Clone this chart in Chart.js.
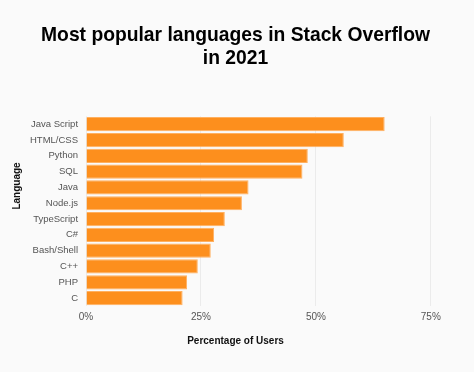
<!DOCTYPE html>
<html>
<head>
<meta charset="utf-8">
<script src="https://cdn.jsdelivr.net/npm/chart.js@4"></script>
<style>
  html, body { margin:0; padding:0; background:#fafafa; }
  #wrap { width:474px; height:372px; }
</style>
</head>
<body>
<div id="wrap"><canvas id="chart" width="474" height="372"></canvas></div>
<script>
// ======================================
// DATA
// ======================================

let languages = [
    "Java Script", "HTML/CSS", "Python", "SQL", "Java", "Node.js",
    "TypeScript", "C#", "Bash/Shell", "C++", "PHP", "C"
];

let percentUsers = [
    64.96, 56.07, 48.24, 47.08, 35.35, 33.91,
    30.19, 27.86, 27.13, 24.31, 21.98, 21.01
];

let xTicks = [0, 25, 50, 75];

let xTitle = "Percentage of Users";
let yTitle = "Language";

// ======================================
// Y TITLE (centred on the whole canvas, like the original)
// ======================================

let yTitlePlugin = {
    id: "yTitlePlugin",
    afterDraw: function(chart) {
        let ctx = chart.ctx;
        ctx.save();
        ctx.translate(17, chart.height / 2);
        ctx.rotate(-Math.PI / 2);
        ctx.font = "bold 10px 'Liberation Sans', Arial, sans-serif";
        ctx.fillStyle = "#111";
        ctx.textAlign = "center";
        ctx.textBaseline = "middle";
        ctx.fillText(yTitle, 0, 0);
        ctx.restore();
    }
};

// ======================================
// CHART
// ======================================

Chart.defaults.font.family = "'Liberation Sans', Arial, sans-serif";

new Chart(document.getElementById("chart"), {
    type: "bar",
    data: {
        labels: languages,
        datasets: [{
            data: percentUsers,
            backgroundColor: "#fd8f1d",
            borderColor: "#ffb060",
            borderWidth: 1,
            barPercentage: 0.9,
            categoryPercentage: 1
        }]
    },
    plugins: [yTitlePlugin],
    options: {
        indexAxis: "y",
        responsive: false,
        animation: false,
        layout: { padding: { left: 8, right: 11, top: 0, bottom: 25 } },
        plugins: {
            legend: { display: false },
            tooltip: { enabled: false },
            title: {
                display: true,
                text: ["Most popular languages in Stack Overflow", "in 2021"],
                color: "#000",
                font: { size: 19.3, weight: "bold" },
                lineHeight: 1.1,
                padding: { top: 24, bottom: 46 }
            },
            subtitle: {
                display: true,
                position: "bottom",
                text: xTitle,
                color: "#111",
                font: { size: 10, weight: "bold" },
                padding: { top: 7, bottom: 0 }
            }
        },
        scales: {
            x: {
                min: 0,
                max: 82,
                afterBuildTicks: function(axis) {
                    axis.ticks = xTicks.map(function(v) { return { value: v }; });
                },
                ticks: {
                    color: "#555",
                    font: { size: 10 },
                    padding: 5,
                    callback: function(v) { return v + "%"; }
                },
                grid: { color: "#ebebeb", drawTicks: false },
                border: { display: false }
            },
            y: {
                afterFit: function(axis) {
                    // room for the hand-drawn "Language" title
                    axis.width += 22;
                },
                ticks: {
                    color: "#555",
                    font: { size: 9.5 },
                    padding: 0
                },
                grid: { display: false },
                border: { display: false }
            }
        }
    }
});
</script>
</body>
</html>
